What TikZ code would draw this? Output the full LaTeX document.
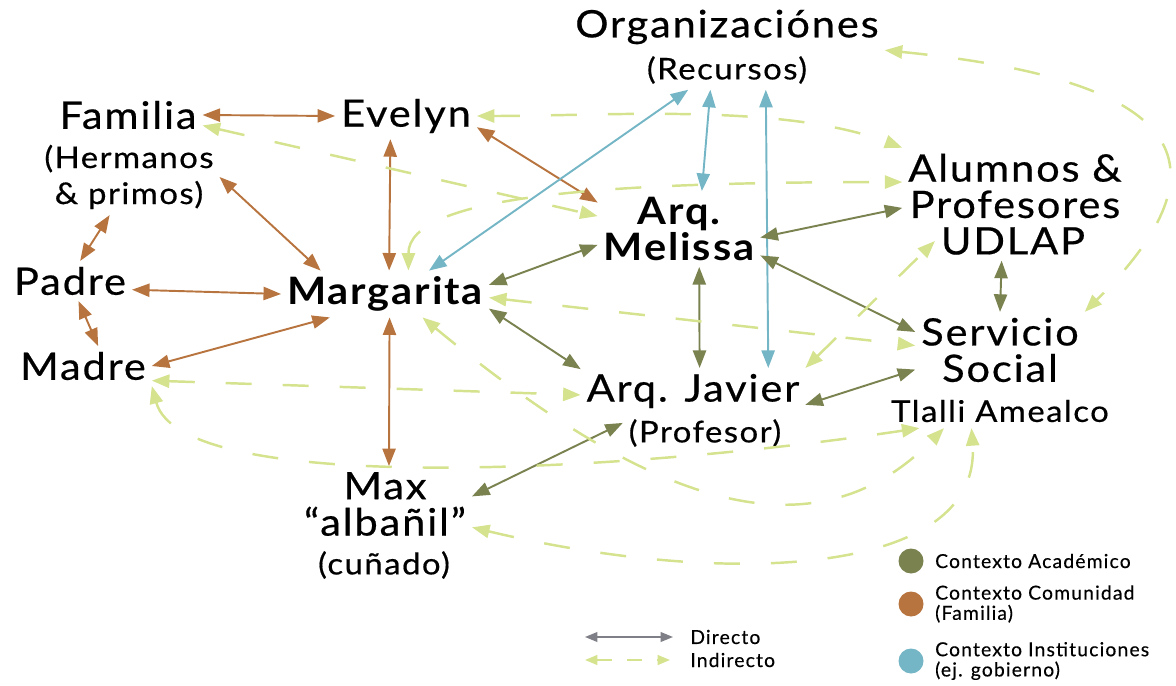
\documentclass[tikz,border=0pt]{standalone}
\usepackage{fontspec}
\usepackage{tikz}
\usepackage{xcolor}
\setmainfont{Lato}[FakeStretch=1.1, LetterSpace=5, UprightFeatures={FakeBold=0.5}]
\newfontfamily\legendfont{Lato}[LetterSpace=6, FakeBold=0.3]
\usetikzlibrary{arrows.meta, calc, positioning}
\definecolor{Acad}{HTML}{7A8350}
\definecolor{Comunidad}{HTML}{B8743F}
\definecolor{Inst}{HTML}{74B6C5}
\definecolor{Indir}{HTML}{D5E28E}
\definecolor{Directo}{HTML}{7F7F87}

\begin{document}
\begin{tikzpicture}[x=0.02cm, y=-0.02cm,
    >={Triangle[length=10pt,width=7.5pt]},
    actor/.style={font=\fontsize{21.5}{20.7}\selectfont, align=center, inner sep=0pt, outer sep=0.12cm},
    keyactor/.style={actor, font=\bfseries\fontsize{21.5}{20.7}\selectfont},
    subnote/.style={actor, font=\fontsize{17}{20.5}\selectfont},
    comm/.style={Comunidad, line width=1.1pt, <->},
    acad/.style={Acad, line width=1.1pt, <->},
    inst/.style={Inst, line width=1.1pt, <->},
    indir/.style={Indir, line width=1.4pt, dash pattern=on 0.52cm off 0.62cm, <->},
    dot/.style={circle, inner sep=0pt, minimum size=0.5cm},
    legend/.style={font=\legendfont\fontsize{11}{11.5}\selectfont, align=left, inner sep=0pt}
]
    \useasboundingbox (0,0) rectangle (1176,686);

    % actors
    \node[actor] (org) at (727,27) {Organizaciónes};
    \node[subnote] (orgsub) at (727,70) {(Recursos)};
    \node[actor] (fam) at (128,115) {Familia};
    \node[subnote] (famsub) at (129,177) {(Hermanos\\\& primos)};
    \node[actor] (eve) at (406,116) {Evelyn};
    \node[actor] (pad) at (70,281) {Padre};
    \node[actor] (mad) at (83,366) {Madre};
    \node[keyactor] (mar) at (385,294) {Margarita};
    \node[keyactor] (mel) at (679,229) {Arq.\\Melissa};
    \node[actor] (alu) at (1015,186) {Alumnos \&\\Profesores};
    \node[actor] (udl) at (1013,241) {UDLAP};
    \node[actor] (ser) at (1000,350) {Servicio\\Social};
    \node[subnote] (sersub) at (1000,411) {Tlalli Amealco};
    \node[actor] (jav) at (693,391) {Arq. Javier};
    \node[subnote] (javsub) at (705,433) {(Profesor)};
    \node[actor] (max) at (385,504) {Max\\“albañil”};
    \node[subnote] (maxsub) at (384,565) {(cuñado)};

    % comunidad
    \draw[comm] (fam.east) -- (eve.west);
    \draw[comm] (famsub.east) -- (mar.160);
    \draw[comm] (famsub.243) -- (pad.63);
    \draw[comm] (pad.293) -- (mad.53);
    \draw[comm] (pad.352) -- (mar.west);
    \draw[comm] (mad.east) -- (mar.203);
    \draw[comm] (eve.236) -- (mar.80);
    \draw[comm] (mar.281) -- (max.84);
    \draw[comm] (eve.351) -- (mel.162);

    % instituciones
    \draw[inst] (orgsub.207) -- (mar.28);
    \draw[inst] (orgsub.230) -- (mel.59);
    \draw[inst] (orgsub.333) -- (jav.17);

    % academico
    \draw[acad] (mar.5) -- (mel.191);
    \draw[acad] (mar.352) -- (jav.169);
    \draw[acad] (mel.298) -- (jav.74);
    \draw[acad] (mel.354) -- (alu.191);
    \draw[acad] (mel.342) -- (ser.168);
    \draw[acad] (udl.240) -- (ser.north);
    \draw[acad] (jav.353) -- (ser.193);
    \draw[acad] (javsub.173) -- (max.5);

    % indirecto
    \draw[indir] (eve.east) .. controls +(130,0) and +(-120,-45) .. (alu.north west);
    \draw[indir] (fam.352) -- (mel.171);
    \draw[indir] (mar.45) .. controls +(0,-75) and +(-300,0) .. (alu.178);
    \draw[indir] (mar.358) -- (ser.177);
    \draw[indir] (mar.328) .. controls +(230,190) and +(-130,132) .. (sersub.197);
    \draw[indir] (mad.348) -- (jav.182);
    \draw[indir] (mad.south east) .. controls +(30,110) and +(-300,45) .. (sersub.192);
    \draw[indir] (max.345) .. controls +(250,60) and +(10,150) .. (sersub.211);
    \draw[indir] (org.south east) .. controls +(300,30) and +(150,-150) .. (ser.north east);
    \draw[indir] (jav.north east) -- (udl.west);

    % leyenda
    \node[dot, fill=Acad] (dotacad) at (911,561) {};
    \node[dot, fill=Comunidad] (dotcomm) at (911,604) {};
    \node[dot, fill=Inst] (dotinst) at (911,661) {};
    \node[legend, right=0.22cm of dotacad] (legacad) {Contexto Académico};
    \node[legend, right=0.22cm of dotcomm] (legcomm) {Contexto Comunidad\\(Familia)};
    \node[legend, right=0.22cm of dotinst] (leginst) {Contexto Instituciones\\(ej. gobierno)};
    \coordinate (dirA) at (585,637);
    \coordinate (dirB) at (673,637);
    \coordinate (indA) at (585,660);
    \coordinate (indB) at (670,660);
    \draw[Directo, line width=0.9pt, >={Triangle[length=7pt,width=5.5pt]}, <->] (dirA) -- (dirB);
    \draw[Indir, line width=1.2pt, dash pattern=on 0.3cm off 0.3cm, >={Triangle[length=7pt,width=5.5pt]}, <->] (indA) -- (indB);
    \node[legend, anchor=west] (legdir) at ($(dirB)+(17,0)$) {Directo};
    \node[legend, anchor=west] (legind) at ($(indB)+(20,0)$) {Indirecto};
\end{tikzpicture}
\end{document}
